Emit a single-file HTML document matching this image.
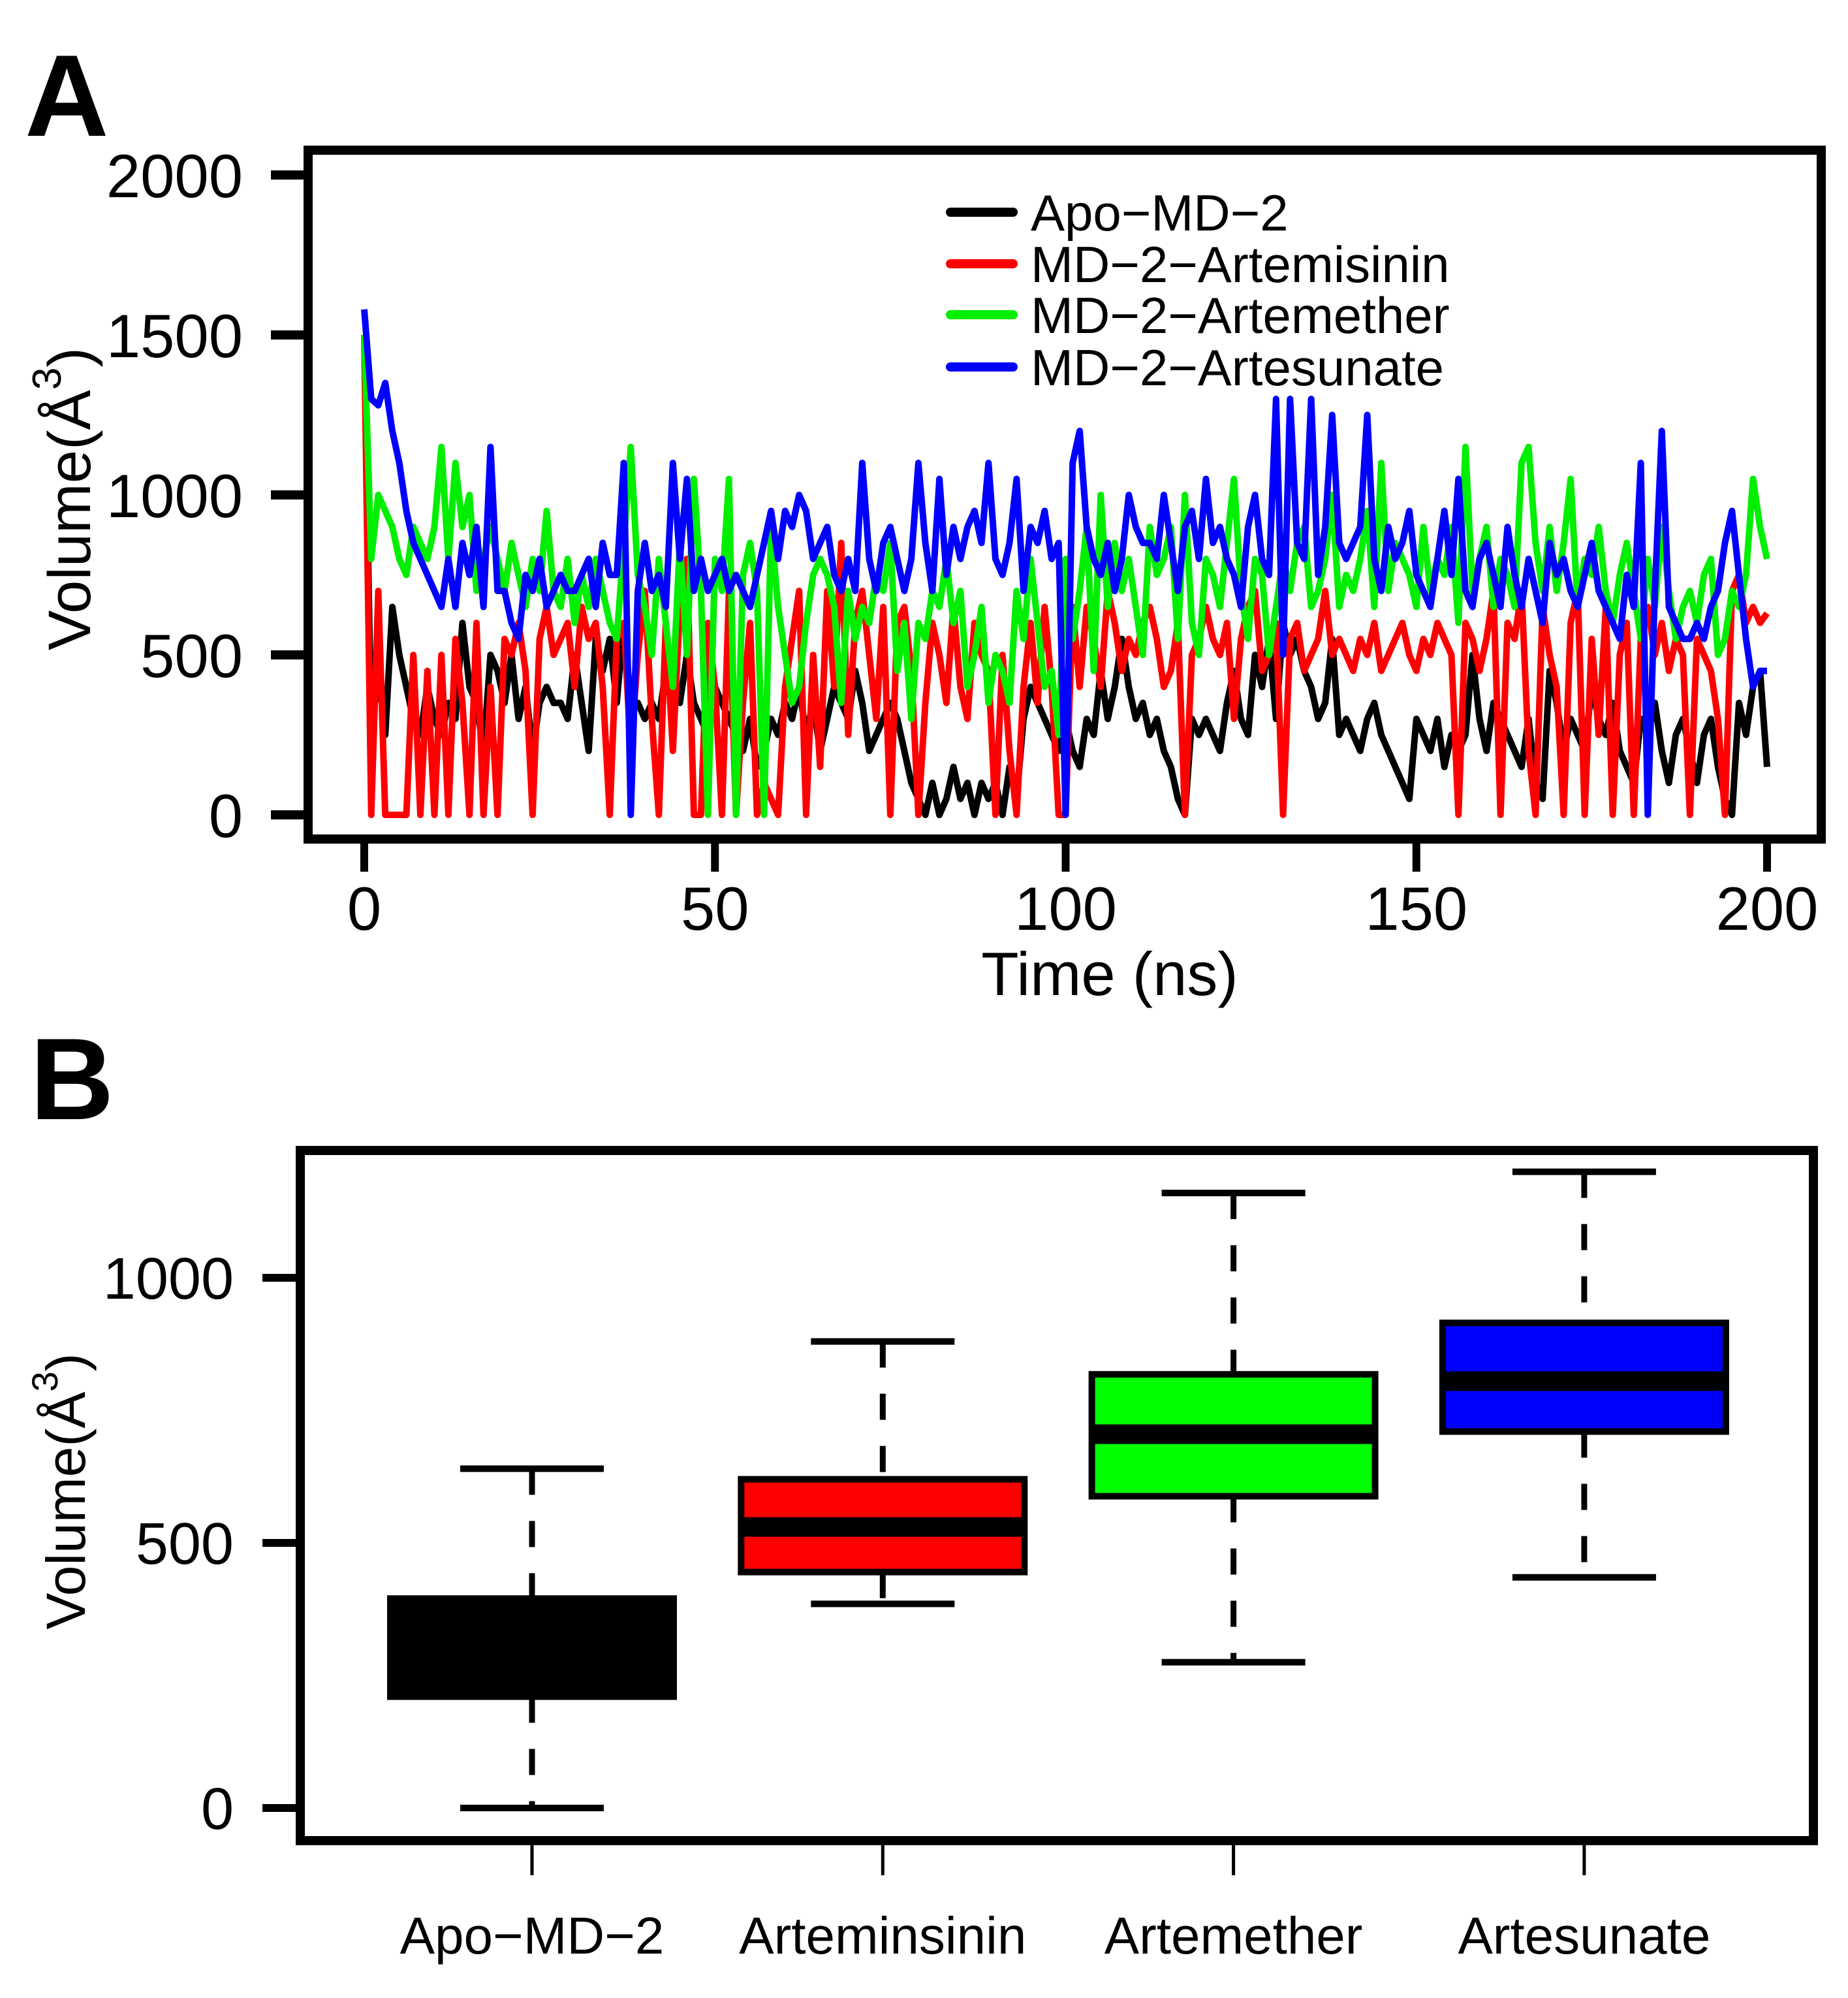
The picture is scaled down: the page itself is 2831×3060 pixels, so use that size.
<!DOCTYPE html>
<html><head><meta charset="utf-8"><style>
html,body{margin:0;padding:0;background:#fff;}
svg{display:block;font-family:"Liberation Sans",Arial,sans-serif;}
</style></head><body>
<svg id="fig" width="2831" height="3060" viewBox="0 0 2831 3060" xmlns="http://www.w3.org/2000/svg">
<g id="pa"></g>
<g id="pb"></g>
</svg>
<script>
// ---------- Panel A data ----------
const timeNs = Array.from({length:201},(_, i)=>i);
const yTicksA = [0,500,1000,1500,2000];
const xTicksA = [0,50,100,150,200];
const seriesNames = ["Apo\u2212MD\u22122","MD\u22122\u2212Artemisinin","MD\u22122\u2212Artemether","MD\u22122\u2212Artesunate"];
const apo = [1500,250,450,250,650,500,400,300,250,400,
300,250,350,300,600,400,350,200,500,450,
350,500,300,400,200,350,400,350,350,300,
500,350,200,550,450,550,350,600,350,350,
300,350,300,450,400,350,500,350,300,250,
400,350,300,250,200,300,150,200,300,250,
350,300,400,250,350,200,300,400,350,300,
450,350,200,250,300,350,300,200,100,50,
0,100,0,50,150,50,100,0,100,50,
100,0,150,50,300,400,350,300,250,200,
300,200,150,300,250,450,300,400,550,400,
300,350,250,300,200,150,50,0,300,250,
300,250,200,350,450,300,250,500,400,550,
300,600,500,550,450,400,300,350,550,250,
300,250,200,300,350,250,200,150,100,50,
300,250,200,300,150,250,200,250,500,300,
200,350,300,250,200,150,300,100,50,450,
350,200,300,250,200,400,300,250,350,200,
150,100,300,250,350,200,100,250,300,200,
100,250,300,150,50,0,350,250,400,450,
150];
const artemisinin = [1500,0,700,0,0,0,0,500,0,450,
0,500,0,550,350,0,600,0,400,0,
550,500,600,450,0,550,650,500,550,600,
400,650,550,600,400,0,550,600,200,500,
700,300,0,600,200,650,800,0,0,600,
400,0,700,0,350,600,0,100,50,0,
400,550,700,0,500,150,700,400,850,250,
600,700,500,300,650,0,600,650,450,0,
350,600,500,350,650,400,300,600,500,450,
0,500,200,0,400,600,350,650,400,0,
0,650,400,650,550,400,700,600,450,550,
500,600,650,550,400,450,600,0,500,550,
650,550,500,600,300,550,650,700,450,500,
600,0,550,600,450,500,550,700,500,550,
500,450,550,500,600,450,500,550,600,500,
450,550,500,600,550,500,0,600,550,450,
550,700,0,600,550,700,200,0,650,500,
400,0,600,700,0,550,250,650,0,500,
600,0,550,650,500,600,450,550,500,0,
550,500,450,300,0,700,750,600,650,600,
630];
const artemether = [1500,800,1000,950,900,800,750,900,850,800,
900,1150,800,1100,900,1000,700,800,900,800,
700,850,750,650,800,700,950,700,650,800,
600,750,650,800,700,600,550,850,1150,750,
650,500,800,600,400,850,500,1050,700,0,
800,700,1050,0,750,850,700,0,900,650,
500,350,400,600,750,800,750,650,350,700,
550,650,600,750,700,850,450,600,300,600,
550,700,650,800,600,700,400,500,650,350,
500,450,350,700,550,800,600,400,450,250,
800,550,700,900,450,1000,650,850,700,800,
650,500,900,750,800,900,550,1000,600,500,
800,750,650,850,1050,700,550,800,750,500,
650,800,700,850,900,650,700,800,1000,650,
750,700,800,950,650,1100,700,850,800,750,
650,900,700,800,750,900,600,1150,700,800,
900,650,800,750,650,1100,1150,850,700,900,
700,850,1050,650,800,750,900,700,600,750,
850,700,550,800,650,900,700,550,650,700,
600,750,800,500,550,700,650,750,1050,900,
800];
const artesunate = [1580,1300,1280,1350,1200,1100,950,850,800,750,
700,650,800,650,850,750,900,650,1150,700,
700,600,550,750,700,800,650,700,750,700,
700,750,800,650,850,750,750,1100,0,700,
850,700,750,650,1100,800,1050,700,800,700,
750,800,700,750,700,650,750,850,950,800,
950,900,1000,950,800,850,900,750,700,800,
700,1100,800,700,850,900,800,700,800,1100,
850,700,1050,750,900,800,900,950,850,1100,
800,750,850,1050,700,900,850,950,800,850,
0,1100,1200,900,800,750,850,700,800,1000,
900,850,850,800,1000,850,700,900,950,800,
1050,850,900,800,750,650,900,1000,800,750,
1300,500,1300,850,800,1300,750,900,1250,850,
800,850,900,1250,800,700,900,800,850,950,
750,700,650,800,950,750,1050,700,650,800,
850,750,650,900,750,650,800,700,600,850,
750,800,700,650,750,850,700,650,600,550,
750,650,1100,0,700,1200,650,600,550,550,
600,550,650,700,850,950,750,550,400,450,
450];

// ---------- Panel B data ----------
const boxCategories = ["Apo\u2212MD\u22122","Arteminsinin","Artemether","Artesunate"];
const whiskerLow  = [0,385,275,435];
const q1          = [210,445,588,710];
const medians     = [300,530,705,805];
const q3          = [395,620,818,915];
const whiskerHigh = [640,880,1160,1200];
const yTicksB = [0,500,1000];

const NS="http://www.w3.org/2000/svg";
function mk(parent,tag,attrs,text){const e=document.createElementNS(NS,tag);for(const k in attrs)e.setAttribute(k,attrs[k]);if(text!==undefined)e.textContent=text;parent.appendChild(e);return e;}

// ---------- Panel A ----------
const pa=document.getElementById('pa');
const xA=t=>558+(t-0)*(2707-558)/200;
const yA=v=>1248-v*(1248-268)/2000;
const colors=["#000000","#ff0000","#00ee00","#0000ff"];
const allSeries=[apo,artemisinin,artemether,artesunate];

let t=mk(pa,'text',{x:38,y:208,'font-size':178,'font-weight':'bold'},'A');



allSeries.forEach((s,i)=>{
  const d=s.map((v,j)=>(j?'L':'M')+xA(timeNs[j]).toFixed(1)+','+yA(v).toFixed(1)).join(' ');
  const p=mk(pa,'path',{d:d,fill:'none',stroke:colors[i],'stroke-width':10,'stroke-linejoin':'round'});
  
  
});

let fr=mk(pa,'rect',{x:472,y:230,width:2318,height:1055,fill:'none',stroke:'#000','stroke-width':14});



yTicksA.forEach(v=>{
  const l=mk(pa,'line',{x1:415,x2:472,y1:yA(v),y2:yA(v),stroke:'#000','stroke-width':14});
  
  
  const tx=mk(pa,'text',{x:372,y:yA(v)+34,'font-size':94,'text-anchor':'end'},String(v));
  
  
});
xTicksA.forEach(v=>{
  const l=mk(pa,'line',{x1:xA(v),x2:xA(v),y1:1285,y2:1335,stroke:'#000','stroke-width':12});
  
  
  const tx=mk(pa,'text',{x:xA(v),y:1424,'font-size':94,'text-anchor':'middle'},String(v));
  
  
});
let xt=mk(pa,'text',{x:1700,y:1524,'font-size':94,'text-anchor':'middle'},'Time (ns)');


let yt=mk(pa,'text',{x:0,y:0,'font-size':92,'text-anchor':'middle',transform:'translate(138,764) rotate(-90)'});


yt.innerHTML='Volume(Å<tspan dy="-45" font-size="62">3</tspan><tspan dy="45">)</tspan>';

const legRows=[325,404,482,562];
seriesNames.forEach((n,i)=>{
  const l=mk(pa,'line',{x1:1456,x2:1552,y1:legRows[i],y2:legRows[i],stroke:colors[i],'stroke-width':14,'stroke-linecap':'round'});
  
  
  const tx=mk(pa,'text',{x:1579,y:legRows[i]+28,'font-size':78},n);
  
  
});

// ---------- Panel B ----------
const pb=document.getElementById('pb');
const xB=i=>815+i*537.3;
const yB=v=>2769-v*0.812;
const fills=["#000000","#ff0000","#00ff00","#0000ff"];
let tb=mk(pb,'text',{x:46,y:1714,'font-size':178,'font-weight':'bold'},'B');



boxCategories.forEach((c,i)=>{
  const cx=xB(i);
  const w1=mk(pb,'line',{x1:cx,x2:cx,y1:yB(whiskerHigh[i]),y2:yB(q3[i]),stroke:'#000','stroke-width':9,'stroke-dasharray':'40,40'});
  
  
  const w2=mk(pb,'line',{x1:cx,x2:cx,y1:yB(q1[i]),y2:yB(whiskerLow[i]),stroke:'#000','stroke-width':9,'stroke-dasharray':'40,40'});
  
  
  [whiskerHigh[i],whiskerLow[i]].forEach(v=>{
    const cap=mk(pb,'line',{x1:cx-110,x2:cx+110,y1:yB(v),y2:yB(v),stroke:'#000','stroke-width':10});
    
    
  });
  const b=mk(pb,'rect',{x:cx-217,y:yB(q3[i]),width:434,height:yB(q1[i])-yB(q3[i]),fill:fills[i],stroke:'#000','stroke-width':10});
  
  
  const m=mk(pb,'line',{x1:cx-217,x2:cx+217,y1:yB(medians[i]),y2:yB(medians[i]),stroke:'#000','stroke-width':30});
  
  
  const tk=mk(pb,'line',{x1:cx,x2:cx,y1:2821,y2:2872,stroke:'#000','stroke-width':5});
  
  
  const tx=mk(pb,'text',{x:cx,y:2992,'font-size':80,'text-anchor':'middle'},c);
  
  
});
let fb=mk(pb,'rect',{x:460,y:1762,width:2318,height:1057,fill:'none',stroke:'#000','stroke-width':14});


yTicksB.forEach(v=>{
  const l=mk(pb,'line',{x1:402,x2:460,y1:yB(v),y2:yB(v),stroke:'#000','stroke-width':12});
  
  
  const tx=mk(pb,'text',{x:358,y:yB(v)+32,'font-size':90,'text-anchor':'end'},String(v));
  
  
});
let ytb=mk(pb,'text',{x:0,y:0,'font-size':84,'text-anchor':'middle',transform:'translate(130,2284) rotate(-90)'});


ytb.innerHTML='Volume(Å<tspan dy="-42" font-size="56">3</tspan><tspan dy="42">)</tspan>';
</script>
</body></html>
